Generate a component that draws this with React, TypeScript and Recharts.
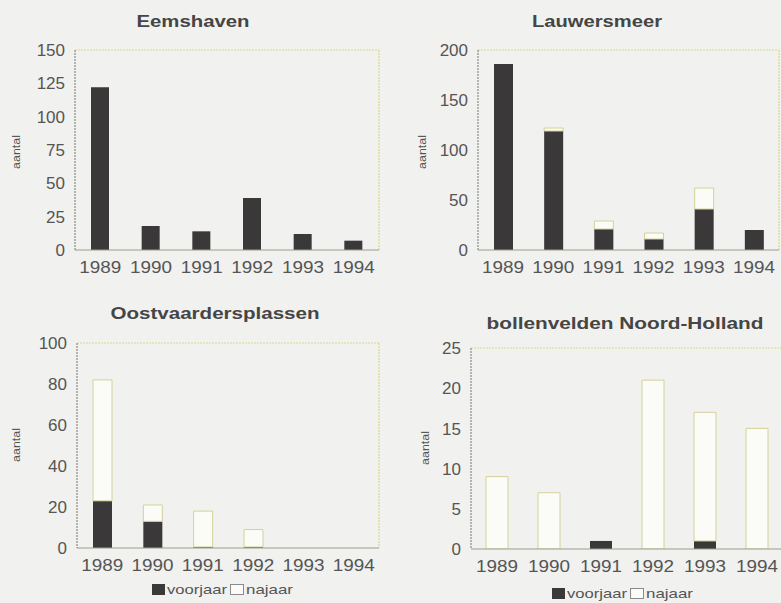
import React from 'react';
import { BarChart, Bar, XAxis, YAxis, CartesianGrid } from 'recharts';

const years = ['1989', '1990', '1991', '1992', '1993', '1994'];

const eemsVoorjaar = [122, 18, 14, 39, 12, 7];
const eemsNajaar = [0, 0, 0, 0, 0, 0];

const lauwVoorjaar = [186, 119, 21, 11, 41, 20];
const lauwNajaar = [0, 3, 8, 6, 21, 0];

const oostVoorjaar = [23, 13, 0.5, 0.5, 0, 0];
const oostNajaar = [59, 8, 17.5, 8.5, 0, 0];

const bollVoorjaar = [0, 0, 1, 0, 1, 0];
const bollNajaar = [9, 7, 0, 21, 16, 15];

const eemsTicks = [0, 25, 50, 75, 100, 125, 150];
const lauwTicks = [0, 50, 100, 150, 200];
const oostTicks = [0, 20, 40, 60, 80, 100];
const bollTicks = [0, 5, 10, 15, 20, 25];

const build = (v: number[], n: number[]) =>
  years.map((y, i) => ({ year: y, voorjaar: v[i], najaar: n[i] }));

const DARK = '#3a3838';
const LIGHT = '#fbfbf8';
const TXT = '#555555';
const FONT = '"Liberation Sans", Arial, Helvetica, sans-serif';

const XTick = (props: any) => {
  const { x, y, payload } = props;
  return (
    <text
      x={x}
      y={y}
      dy="0.71em"
      textAnchor="middle"
      fontSize={17}
      fill={TXT}
      fontFamily={FONT}
      textLength={42}
      lengthAdjust="spacingAndGlyphs"
    >
      {payload.value}
    </text>
  );
};

const YTick = (props: any) => {
  const { x, y, payload } = props;
  return (
    <text x={x} y={y} dy="0.36em" textAnchor="end" fontSize={17} fill={TXT} fontFamily={FONT}>
      {payload.value}
    </text>
  );
};

type PanelProps = {
  left: number;
  top: number;
  width: number;
  height: number;
  margin: { top: number; right: number; bottom: number; left: number };
  data: any[];
  max: number;
  ticks: number[];
  barSize: number;
};

const rightEdge = (p: any) => {
  const o = p && p.offset;
  return o ? [o.left + o.width] : [];
};
const topEdge = (p: any) => {
  const o = p && p.offset;
  return o ? [o.top] : [];
};

function Panel({ left, top, width, height, margin, data, max, ticks, barSize }: PanelProps) {
  return (
    <div style={{ position: 'absolute', left, top, width, height }}>
      <BarChart width={width} height={height} data={data} margin={margin} barCategoryGap={0}>
        <CartesianGrid
          stroke="#dcd98a"
          strokeWidth={1.2}
          strokeDasharray="2 1"
          verticalCoordinatesGenerator={rightEdge}
          horizontalCoordinatesGenerator={topEdge}
        />
        <XAxis
          dataKey="year"
          interval={0}
          height={30}
          tickLine={false}
          tickSize={0}
          tickMargin={11}
          axisLine={{ stroke: '#9c9e8c', strokeWidth: 1.2 }}
          tick={<XTick />}
        />
        <YAxis
          domain={[0, max]}
          ticks={ticks}
          width={40}
          tickLine={false}
          tickSize={0}
          tickMargin={10}
          allowDataOverflow
          axisLine={{ stroke: '#8a8a86', strokeWidth: 1.2, strokeDasharray: '2 1' }}
          tick={<YTick />}
        />
        <Bar dataKey="voorjaar" stackId="s" fill={DARK} barSize={barSize} isAnimationActive={false} />
        <Bar
          dataKey="najaar"
          stackId="s"
          fill={LIGHT}
          stroke="#d4d29a"
          strokeWidth={1}
          barSize={barSize}
          isAnimationActive={false}
        />
      </BarChart>
    </div>
  );
}

const Title = ({ cx, y, len, children }: any) => (
  <text
    x={cx}
    y={y}
    textAnchor="middle"
    fontSize={16}
    fontWeight="bold"
    fill="#454545"
    fontFamily={FONT}
    textLength={len}
    lengthAdjust="spacingAndGlyphs"
  >
    {children}
  </text>
);

const YLab = ({ x, y }: any) => (
  <text
    x={x}
    y={y}
    transform={`rotate(-90 ${x} ${y})`}
    textAnchor="middle"
    dy="0.35em"
    fontSize={10}
    fill={TXT}
    fontFamily={FONT}
    textLength={34}
    lengthAdjust="spacingAndGlyphs"
  >
    aantal
  </text>
);

const LegendRow = ({ x, y }: any) => (
  <g fontFamily={FONT} fontSize={13} fill={TXT}>
    <rect x={x} y={y} width={13} height={11} fill={DARK} />
    <text x={x + 15} y={y + 10} textLength={60} lengthAdjust="spacingAndGlyphs">
      voorjaar
    </text>
    <rect x={x + 78.5} y={y + 0.5} width={13} height={10} fill={LIGHT} stroke="#8a8a8a" />
    <text x={x + 94} y={y + 10} textLength={47} lengthAdjust="spacingAndGlyphs">
      najaar
    </text>
  </g>
);

export default function App() {
  return (
    <div
      style={{
        position: 'absolute',
        left: 0,
        top: 0,
        width: 781,
        height: 603,
        background: '#f1f1ef',
        overflow: 'hidden',
      }}
    >
      <Panel
        left={0}
        top={0}
        width={390}
        height={290}
        margin={{ top: 50, right: 11, bottom: 10, left: 35 }}
        data={build(eemsVoorjaar, eemsNajaar)}
        max={150}
        ticks={eemsTicks}
        barSize={18}
      />
      <Panel
        left={390}
        top={0}
        width={391}
        height={290}
        margin={{ top: 50, right: 2, bottom: 10, left: 48 }}
        data={build(lauwVoorjaar, lauwNajaar)}
        max={200}
        ticks={lauwTicks}
        barSize={19}
      />
      <Panel
        left={0}
        top={290}
        width={390}
        height={313}
        margin={{ top: 53, right: 11, bottom: 25, left: 37 }}
        data={build(oostVoorjaar, oostNajaar)}
        max={100}
        ticks={oostTicks}
        barSize={19}
      />
      <Panel
        left={390}
        top={290}
        width={393}
        height={313}
        margin={{ top: 58, right: 0, bottom: 24, left: 41 }}
        data={build(bollVoorjaar, bollNajaar)}
        max={25}
        ticks={bollTicks}
        barSize={22}
      />
      <svg
        width={781}
        height={603}
        style={{ position: 'absolute', left: 0, top: 0, pointerEvents: 'none' }}
      >
        <Title cx={193} y={27} len={113}>Eemshaven</Title>
        <Title cx={597} y={27} len={130}>Lauwersmeer</Title>
        <Title cx={215} y={319} len={209}>Oostvaardersplassen</Title>
        <Title cx={625} y={329} len={277}>bollenvelden Noord-Holland</Title>
        <YLab x={16} y={152} />
        <YLab x={422} y={152} />
        <YLab x={16} y={445} />
        <YLab x={425} y={448} />
        <LegendRow x={152} y={584} />
        <LegendRow x={552} y={588} />
      </svg>
    </div>
  );
}
